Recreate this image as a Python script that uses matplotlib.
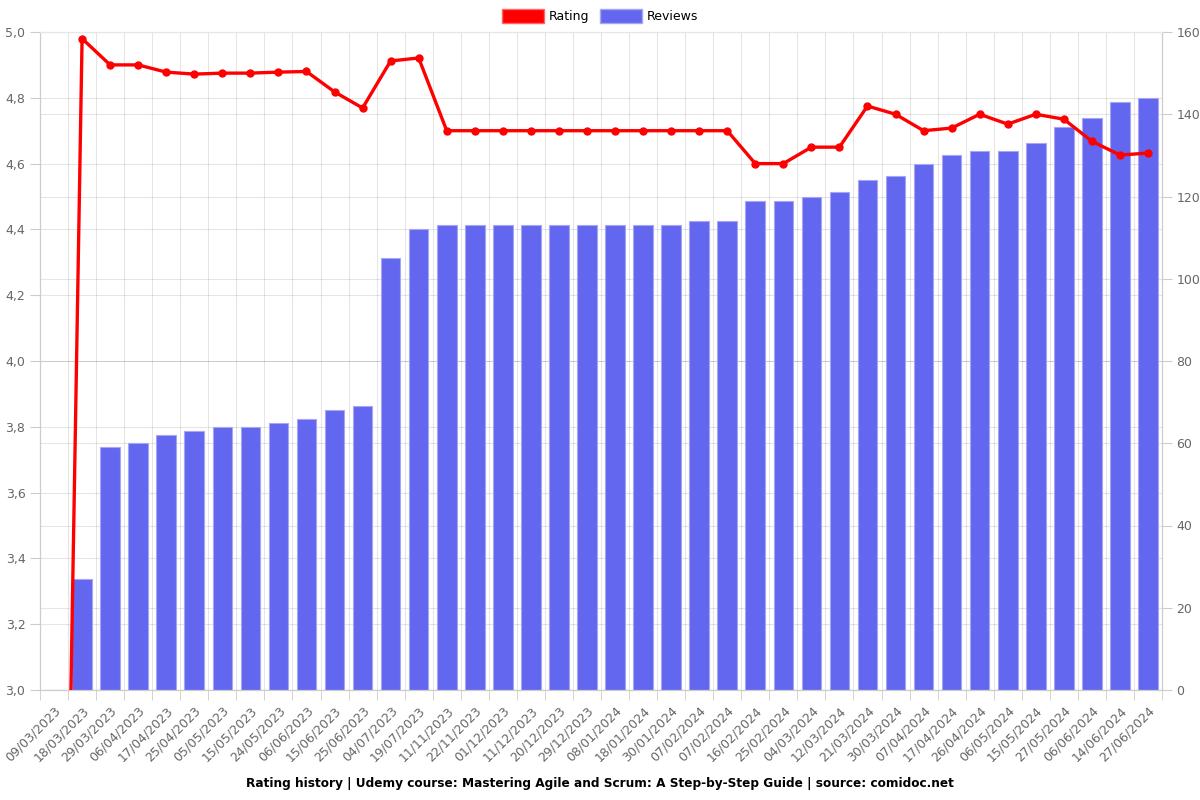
import numpy as np
import matplotlib
matplotlib.use('Agg')
import matplotlib.pyplot as plt
from matplotlib.patches import Patch
from matplotlib.transforms import blended_transform_factory
from matplotlib.ticker import FuncFormatter

plt.rcParams['font.family'] = ['DejaVu Sans']

# 数据
dates = ['09/03/2023', '18/03/2023', '29/03/2023', '06/04/2023', '17/04/2023', '25/04/2023',
         '05/05/2023', '15/05/2023', '24/05/2023', '06/06/2023', '15/06/2023', '25/06/2023',
         '04/07/2023', '19/07/2023', '11/11/2023', '22/11/2023', '01/12/2023', '11/12/2023',
         '20/12/2023', '29/12/2023', '08/01/2024', '18/01/2024', '30/01/2024', '07/02/2024',
         '07/02/2024', '16/02/2024', '25/02/2024', '04/03/2024', '12/03/2024', '21/03/2024',
         '30/03/2024', '07/04/2024', '17/04/2024', '26/04/2024', '06/05/2024', '15/05/2024',
         '27/05/2024', '06/06/2024', '14/06/2024', '27/06/2024']
rating = [0, 4.98, 4.90, 4.90, 4.878, 4.872, 4.875, 4.875, 4.878, 4.88, 4.818, 4.769,
          4.912, 4.921, 4.70, 4.70, 4.70, 4.70, 4.70, 4.70, 4.70, 4.70, 4.70, 4.70,
          4.70, 4.60, 4.60, 4.65, 4.65, 4.775, 4.75, 4.70, 4.708, 4.75, 4.72, 4.75,
          4.735, 4.668, 4.626, 4.632]
reviews = [0, 27, 59, 60, 62, 63, 64, 64, 65, 66, 68, 69, 105, 112, 113, 113, 113, 113,
           113, 113, 113, 113, 113, 114, 114, 119, 119, 120, 121, 124, 125, 128, 130, 131,
           131, 133, 137, 139, 143, 144]

rating_ticks = np.arange(3.0, 5.01, 0.2)
review_ticks = np.arange(0, 161, 20)

grid_alpha = 0.1
axis_c = '#cccccc'
text_c = '#666666'
bar_c = '#6366ee'
x = np.arange(len(dates))

fig = plt.figure(figsize=(12, 8), dpi=100)
ax = fig.add_axes([40 / 1200, 1 - 690 / 800, 1122 / 1200, 658 / 800])  # 评论数 (右轴)
ax2 = ax.twinx()  # 评分 (左轴)
ax.yaxis.tick_right()
ax2.yaxis.tick_left()

ax.bar(x, reviews, width=0.7, color=bar_c, edgecolor='#a5a7f5', linewidth=0.8, zorder=2)
ax.set_ylim(0, 160)
ax.set_yticks(review_ticks)
ax.set_xlim(-0.5, len(dates) - 0.5)

ax2.plot(x, rating, color='#ff0000', linewidth=2.4, marker='o', markersize=5, zorder=3)
ax2.set_ylim(3.0, 5.0)
ax2.set_yticks(rating_ticks)
ax2.yaxis.set_major_formatter(FuncFormatter(lambda v, p: f'{v:.1f}'.replace('.', ',')))

# 网格
ax.set_axisbelow(True)
ax.yaxis.grid(True, color='black', alpha=grid_alpha, linewidth=0.8, zorder=0)
trans = blended_transform_factory(ax.transAxes, ax2.transData)
ax.hlines(rating_ticks, 0, 1, transform=trans, color='black', alpha=grid_alpha,
          linewidth=0.8, zorder=0.5)
ax.set_xticks(np.arange(-0.5, len(dates), 1), minor=True)
ax.xaxis.grid(True, which='minor', color='black', alpha=grid_alpha, linewidth=0.8, zorder=0)
ax.set_xticks(x)
ax.set_xticklabels(dates, rotation=45, ha='right', rotation_mode='anchor')
ax.tick_params(axis='x', which='major', length=0, pad=10, labelsize=9, labelcolor=text_c)
ax.tick_params(axis='x', which='minor', length=7, color=axis_c)
ax.tick_params(axis='y', length=7, color=axis_c, labelsize=9, labelcolor=text_c)
ax2.tick_params(axis='y', length=7, color=axis_c, labelsize=9, labelcolor=text_c)

for a in (ax, ax2):
    for s in a.spines.values():
        s.set_color(axis_c)
        s.set_linewidth(0.8)
ax2.spines['top'].set_color('#e6e6e6')
ax.spines['top'].set_color('#e6e6e6')

handles = [Patch(facecolor='#ff0000', edgecolor='#ff6666', label='Rating'),
           Patch(facecolor=bar_c, edgecolor='#a5a7f5', label='Reviews')]
fig.legend(handles=handles, loc='center', bbox_to_anchor=(0.5, 1 - 16 / 800), ncol=2,
           frameon=False, fontsize=9, handlelength=3.4, handleheight=1.3,
           columnspacing=0.8, handletextpad=0.4, borderpad=0.2)

fig.text(0.5, 1 - 783 / 800,
         'Rating history | Udemy course: Mastering Agile and Scrum: A Step-by-Step Guide | source: comidoc.net',
         ha='center', va='center', fontsize=8.7, fontweight='bold')

fig.savefig('out.png', dpi=100)
